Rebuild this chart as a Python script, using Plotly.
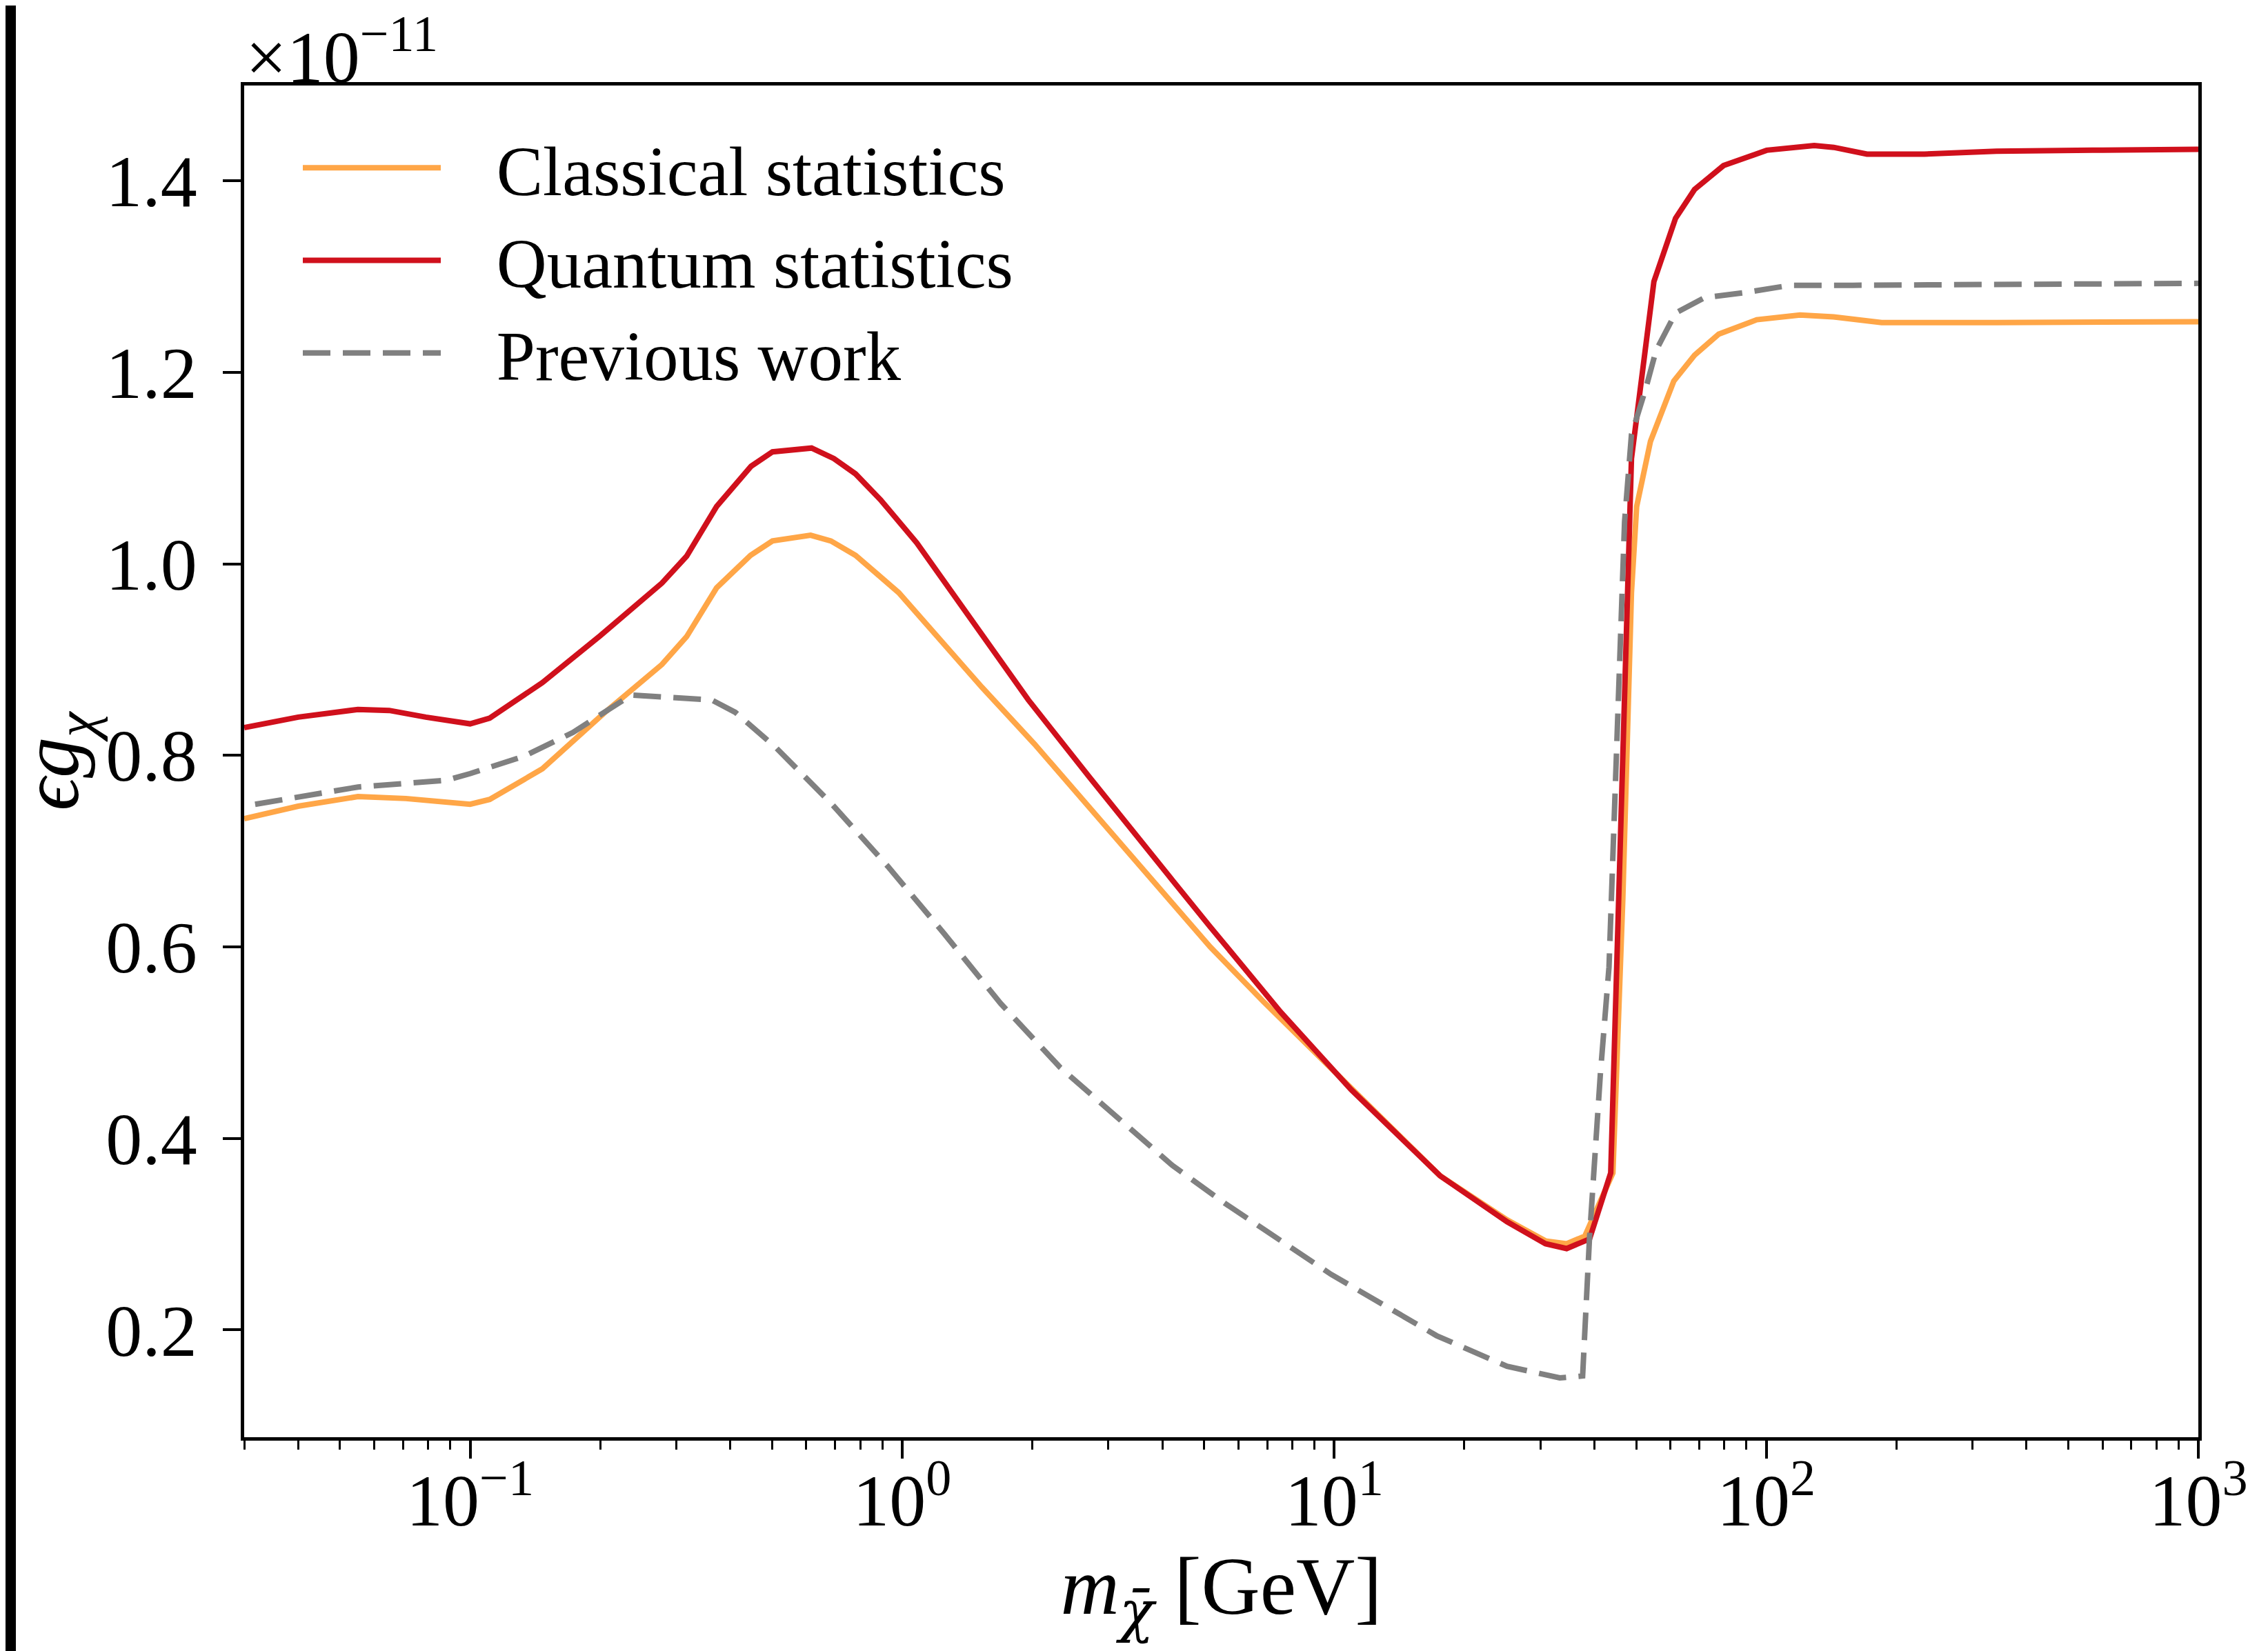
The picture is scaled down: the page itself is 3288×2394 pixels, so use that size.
import plotly.graph_objects as go

# ---- data (x in GeV, y in units of 1e-11) ----
quantum_m = [0.03, 0.04, 0.055, 0.065, 0.079, 0.1, 0.111, 0.147, 0.2, 0.278, 0.317, 0.372,
             0.447, 0.501, 0.617, 0.695, 0.780, 0.891, 1.081, 1.409, 1.959, 2.716, 3.548,
             4.217, 5.164, 7.516, 10.94, 17.58, 25.12, 30.83, 34.51, 38.99, 43.65, 45.19,
             46.99, 48.75, 54.95, 61.66, 68.23, 79.62, 100.2, 129.1, 143.2, 171.0, 232.3,
             341.2, 568.9, 1000]
quantum_y = [0.829, 0.840, 0.848, 0.847, 0.840, 0.833, 0.839, 0.876, 0.925, 0.980, 1.008, 1.060,
             1.102, 1.117, 1.121, 1.110, 1.094, 1.067, 1.022, 0.948, 0.858, 0.777, 0.711,
             0.670, 0.621, 0.532, 0.451, 0.361, 0.313, 0.290, 0.285, 0.295, 0.364, 0.600,
             0.880, 1.110, 1.295, 1.361, 1.391, 1.416, 1.432, 1.437, 1.435, 1.428, 1.428,
             1.431, 1.432, 1.433]

classical_m = [0.03, 0.04, 0.055, 0.071, 0.1, 0.111, 0.147, 0.204, 0.278, 0.317, 0.372, 0.446,
               0.501, 0.614, 0.684, 0.780, 0.982, 1.236, 1.531, 2.023, 2.951, 3.548, 5.164,
               6.855, 10.94, 17.58, 25.12, 30.83, 34.51, 38.02, 44.16, 46.56, 48.75, 50.12,
               53.95, 61.09, 68.23, 77.62, 95.06, 119.7, 143.2, 184.9, 341.2, 1000]
classical_y = [0.734, 0.747, 0.757, 0.755, 0.749, 0.754, 0.786, 0.844, 0.895, 0.924, 0.975, 1.009,
               1.024, 1.030, 1.024, 1.009, 0.970, 0.919, 0.871, 0.812, 0.727, 0.684, 0.600,
               0.543, 0.452, 0.361, 0.315, 0.293, 0.290, 0.298, 0.364, 0.651, 0.970, 1.060,
               1.128, 1.191, 1.218, 1.240, 1.255, 1.260, 1.258, 1.252, 1.252, 1.253]

previous_m = [0.0318, 0.055, 0.088, 0.1, 0.133, 0.173, 0.236, 0.254, 0.362, 0.411, 0.508,
              0.685, 0.927, 1.250, 1.690, 2.323, 3.199, 4.217, 5.598, 9.84, 17.26, 25.12,
              33.27, 37.58, 38.99, 41.30, 43.25, 45.19, 46.99, 48.75, 52.60, 55.59, 61.66,
              71.94, 88.10, 113.8, 158.5, 1000]
previous_y = [0.749, 0.767, 0.774, 0.781, 0.799, 0.824, 0.863, 0.862, 0.858, 0.845, 0.809,
              0.750, 0.684, 0.614, 0.541, 0.474, 0.419, 0.372, 0.332, 0.258, 0.194, 0.162,
              0.150, 0.152, 0.297, 0.467, 0.579, 0.820, 1.044, 1.135, 1.183, 1.223, 1.262,
              1.278, 1.283, 1.291, 1.291, 1.293]

x_tickvals = [0.1, 1, 10, 100, 1000]
x_ticktext = ["10<sup>−1</sup>", "10<sup>0</sup>", "10<sup>1</sup>", "10<sup>2</sup>", "10<sup>3</sup>"]
y_tickvals = [0.2, 0.4, 0.6, 0.8, 1.0, 1.2, 1.4]

FONT = "Liberation Serif"
TICK_SIZE = 106
ML, MR, MT, MB = 346, 109, 116, 318
PW = 3288 - ML - MR
PH = 2394 - MT - MB
GAP = "\u00a0\u00a0\u00a0"

fig = go.Figure()
fig.add_trace(go.Scatter(x=classical_m, y=classical_y, mode="lines", name=GAP + "Classical statistics",
                         line=dict(color="#FFA647", width=8)))
fig.add_trace(go.Scatter(x=quantum_m, y=quantum_y, mode="lines", name=GAP + "Quantum statistics",
                         line=dict(color="#D0101C", width=8)))
fig.add_trace(go.Scatter(x=previous_m, y=previous_y, mode="lines", name=GAP + "Previous work",
                         line=dict(color="#808080", width=8, dash="40px,18px")))

axis_common = dict(showline=True, linecolor="black", linewidth=5, mirror=True,
                   ticks="outside", ticklen=26, tickwidth=4, tickcolor="black",
                   showgrid=False, zeroline=False,
                   tickfont=dict(family=FONT, size=TICK_SIZE, color="black"))

fig.update_xaxes(type="log", range=[-1.5229, 3.0], tickvals=x_tickvals, ticktext=x_ticktext,
                 ticklabelstandoff=-30,
                 minor=dict(ticks="outside", ticklen=13, tickwidth=3, tickcolor="black",
                            dtick="D1", showgrid=False),
                 title=dict(text="<i>m</i><sub><span style='font-family:DejaVu Serif'><i>χ̄</i></span></sub> [GeV]",
                            font=dict(family=FONT, size=118, color="black"), standoff=10),
                 **axis_common)
fig.update_yaxes(range=[0.088, 1.4996], tickvals=y_tickvals, tickformat=".1f",
                 ticklabelstandoff=16,
                 title=dict(text="<i>ϵg</i><sub><i>χ</i></sub>",
                            font=dict(family=FONT, size=118, color="black"), standoff=40),
                 **axis_common)

fig.add_annotation(text="×10<sup>−11</sup>", xref="paper", yref="paper", x=0.0, y=1.0,
                   xanchor="left", yanchor="bottom", showarrow=False, yshift=-20,
                   font=dict(family=FONT, size=106, color="black"))

# dark strip on the left edge of the reference image
fig.add_shape(type="rect", xref="paper", yref="paper", x0=-0.2, x1=(-ML + 15) / PW,
              y0=-MB / PH - 0.1, y1=1 + MT / PH + 0.1, fillcolor="black", line=dict(width=0),
              layer="above")

fig.update_layout(
    width=3288, height=2394,
    margin=dict(l=ML, r=MR, t=MT, b=MB),
    paper_bgcolor="white", plot_bgcolor="white",
    font=dict(family=FONT, color="black"),
    legend=dict(x=(426 - ML) / PW, y=0.976, xanchor="left", yanchor="top",
                font=dict(family=FONT, size=101, color="black"),
                bgcolor="rgba(255,255,255,0)", borderwidth=0, itemwidth=200),
)

fig.write_html("out.html")
